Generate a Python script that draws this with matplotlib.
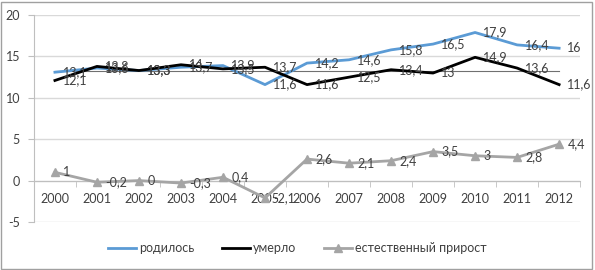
import matplotlib
matplotlib.use("Agg")
import matplotlib.pyplot as plt
from matplotlib.patches import Rectangle

plt.rcParams['font.family'] = ['Lato', 'DejaVu Sans']
plt.rcParams['axes.unicode_minus'] = False

years = ['2000', '2001', '2002', '2003', '2004', '2005', '2006',
         '2007', '2008', '2009', '2010', '2011', '2012']
born = [13.1, 13.6, 13.3, 13.7, 13.9, 11.6, 14.2, 14.6, 15.8, 16.5, 17.9, 16.4, 16]
died = [12.1, 13.8, 13.3, 14, 13.5, 13.7, 11.6, 12.5, 13.4, 13, 14.9, 13.6, 11.6]
growth = [1, -0.2, 0, -0.3, 0.4, -2.1, 2.6, 2.1, 2.4, 3.5, 3, 2.8, 4.4]
ref_level = 13.3

txt = '#404040'


def fmt(v):
    s = ('%g' % v)
    return s.replace('.', ',')


fig = plt.figure(figsize=(5.95, 2.70), dpi=100)
ax = fig.add_axes([0.057, 0.178, 0.918, 0.766])

x = list(range(len(years)))

ax.plot([0, len(x) - 1], [ref_level, ref_level], color='#707070', lw=0.8, zorder=2)
ax.plot(x, born, color='#5B9BD5', lw=2, label='родилось', zorder=3)
ax.plot(x, died, color='black', lw=2, label='умерло', zorder=3)
ax.plot(x, growth, color='#A5A5A5', lw=2, marker='^', markersize=6,
        label='естественный прирост', zorder=3)

for series in (born, died, growth):
    for i, v in enumerate(series):
        ax.annotate(fmt(v), (i, v), xytext=(6, 0), textcoords='offset points',
                    ha='left', va='center', fontsize=9, color=txt, zorder=4)

ax.set_xlim(-0.5, len(x) - 0.5)
ax.set_ylim(-5, 20)
ax.set_yticks([-5, 0, 5, 10, 15, 20])
ax.yaxis.grid(True, color='#D9D9D9', lw=1)
ax.set_axisbelow(True)

ax.spines['top'].set_visible(False)
ax.spines['right'].set_visible(False)
ax.spines['left'].set_color('#BFBFBF')
ax.spines['bottom'].set_position(('data', 0))
ax.spines['bottom'].set_color('#BFBFBF')

ax.set_xticks(x)
ax.set_xticklabels(years)
ax.set_xticks([i - 0.5 for i in range(len(x) + 1)], minor=True)
ax.tick_params(axis='x', which='major', length=0, pad=9, labelsize=9, colors=txt)
ax.tick_params(axis='x', which='minor', length=4, direction='out', color='#BFBFBF')
ax.tick_params(axis='y', length=4, color='#BFBFBF', labelsize=9, colors=txt, pad=6)

fig.legend(loc='center', bbox_to_anchor=(0.5, 0.08), ncol=3, frameon=False,
           fontsize=9, handlelength=2.2, columnspacing=2.2, handletextpad=0.3,
           labelcolor=txt)

fig.patches.append(Rectangle((0.002, 0.004), 0.993, 0.99, transform=fig.transFigure,
                             fill=False, edgecolor='#A0A0A0', lw=1))

fig.savefig('out.png', dpi=100)
